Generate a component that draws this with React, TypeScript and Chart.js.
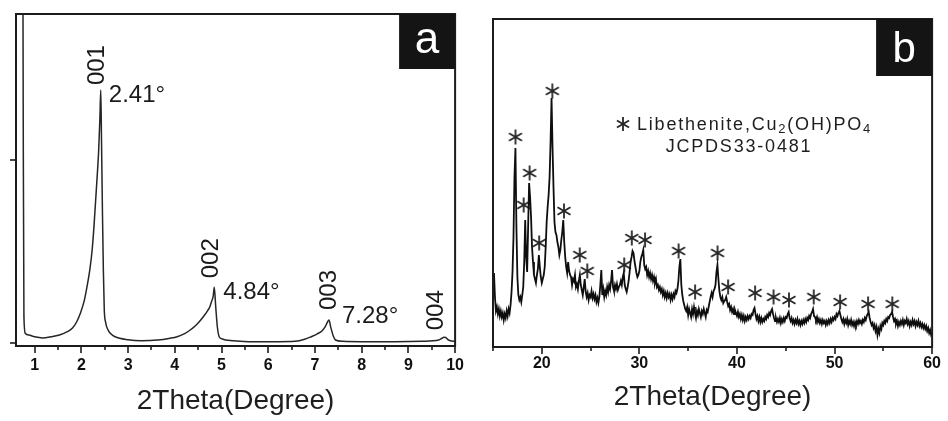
import React, { useEffect, useRef } from 'react';
import { Chart, registerables } from 'chart.js';

Chart.register(...registerables);

const FONT = "'Liberation Sans', Arial, Helvetica, sans-serif";
const INK = '#1c1c1c';

// ---------------- Panel a : low-angle XRD ----------------
const thetaA = [
  0.745, 0.755, 0.77, 0.8, 0.9, 1.0, 1.17, 1.35, 1.53, 1.7, 1.81, 1.9, 1.98, 2.06, 2.12,
  2.18, 2.23, 2.27, 2.31, 2.34, 2.37, 2.395, 2.415, 2.43, 2.45, 2.47, 2.49, 2.52, 2.56,
  2.63, 2.72, 3.0, 3.28, 3.63, 3.9, 4.05, 4.2, 4.33, 4.48, 4.61, 4.7, 4.75, 4.79, 4.82,
  4.845, 4.875, 4.91, 4.95, 5.02, 5.09, 5.4, 5.72, 6.2, 6.57, 6.78, 6.92, 7.05, 7.15,
  7.22, 7.27, 7.3, 7.34, 7.39, 7.44, 7.6, 8.0, 8.7, 9.3, 9.65, 9.72, 9.76, 9.8, 9.84,
  9.9, 10.0,
];
const intensityA = [
  12000, 6000, 700, 260, 210, 170, 140, 170, 220, 310, 410, 580, 820, 1150, 1540,
  2000, 2540, 3200, 4000, 4600, 5270, 6100, 6910, 5600, 3630, 2000, 900, 560, 380,
  250, 172, 90, 64, 80, 130, 172, 250, 355, 520, 718, 880, 992, 1150, 1265,
  1522, 1000, 445, 172, 110, 82, 50, 36, 36, 45, 100, 172, 250, 330,
  445, 580, 628, 420, 200, 82, 45, 36, 36, 45, 80, 130, 156, 150, 100,
  60, 40,
];
const xTicksA = [1, 2, 3, 4, 5, 6, 7, 8, 9, 10];
const xMinorA = [1.5, 2.5, 3.5, 4.5, 5.5, 6.5, 7.5, 8.5, 9.5];
const yTicksA = [0, 5000];
const peakNamesA = ['001', '002', '003', '004'];
const peakThetaA = [2.415, 4.845, 7.3, 9.76];
const peakIntensityA = [6910, 1522, 628, 156];
const peakAngleLabelsA = ['2.41°', '4.84°', '7.28°', ''];

// ---------------- Panel b : wide-angle XRD ----------------
const scanStartB = 15;
const scanStepB = 0.1;
const intensityB = [
  60, 74, 50, 36, 40, 33, 38, 31, 36, 30,
  34, 27, 33, 29, 36, 31, 38, 34, 42, 55,
  75, 110, 170, 199, 120, 70, 52, 47, 50, 45,
  52, 60, 85, 127, 90, 75, 120, 164, 150, 130,
  100, 85, 72, 68, 64, 72, 78, 92, 80, 70,
  64, 68, 72, 80, 100, 125, 140, 152, 170, 205,
  249, 200, 160, 125, 115, 112, 105, 100, 92, 97,
  107, 115, 127, 105, 90, 80, 74, 85, 76, 72,
  70, 62, 68, 66, 72, 60, 63, 58, 66, 72,
  62, 57, 52, 60, 68, 55, 50, 54, 47, 52,
  50, 56, 49, 53, 48, 52, 45, 49, 44, 50,
  62, 77, 52, 58, 50, 56, 52, 60, 55, 62,
  58, 66, 77, 60, 56, 62, 58, 63, 57, 60,
  62, 66, 62, 70, 74, 62, 58, 55, 60, 66,
  75, 85, 90, 96, 94, 86, 80, 74, 70, 72,
  76, 85, 90, 93, 97, 82, 78, 80, 72, 76,
  70, 74, 68, 72, 66, 70, 64, 68, 60, 62,
  57, 60, 55, 58, 52, 56, 50, 54, 49, 54,
  50, 53, 47, 52, 48, 53, 50, 56, 54, 58,
  66, 80, 88, 62, 52, 46, 42, 38, 36, 40,
  32, 38, 34, 30, 38, 33, 40, 34, 29, 36,
  32, 38, 34, 30, 36, 33, 38, 34, 30, 37,
  35, 40, 45, 50, 54, 50, 56, 58, 62, 75,
  82, 68, 56, 50, 47, 50, 44, 46, 47, 50,
  45, 41, 43, 37, 40, 35, 38, 33, 37, 34,
  31, 35, 30, 33, 28, 32, 27, 31, 26, 30,
  27, 31, 28, 31, 29, 33, 32, 37, 39, 33,
  28, 31, 26, 30, 25, 29, 25, 28, 26, 30,
  28, 32, 30, 34, 32, 36, 38, 33, 29, 26,
  29, 25, 28, 25, 29, 24, 28, 25, 29, 26,
  30, 29, 33, 35, 29, 26, 29, 24, 27, 23,
  27, 24, 28, 23, 26, 22, 26, 23, 27, 24,
  28, 25, 29, 27, 31, 29, 33, 35, 38, 31,
  30, 27, 30, 25, 28, 24, 27, 23, 27, 24,
  26, 22, 26, 23, 27, 24, 28, 25, 29, 27,
  30, 28, 33, 31, 34, 36, 32, 28, 25, 28,
  23, 27, 24, 28, 22, 26, 23, 27, 22, 25,
  21, 25, 22, 26, 23, 27, 24, 26, 23, 27,
  25, 29, 27, 31, 33, 35, 29, 25, 22, 24,
  19, 22, 16, 20, 12, 18, 14, 21, 18, 24,
  22, 26, 24, 28, 26, 30, 29, 32, 33, 35,
  30, 26, 28, 23, 26, 21, 25, 22, 26, 23,
  27, 22, 26, 24, 28, 23, 26, 21, 25, 22,
  27, 23, 26, 21, 25, 22, 26, 21, 24, 20,
  23, 19, 22, 18, 21, 16, 19, 14, 17, 12,
  14,
];
const starThetaB = [
  17.3, 18.14, 18.75, 19.73, 21.08, 22.27, 23.89, 24.66, 28.45, 29.22, 30.58,
  34.02, 35.71, 38.01, 39.09, 41.86, 43.75, 45.33, 47.87, 50.57, 53.44, 55.92,
];
const starIntensityB = [
  210, 142, 174, 104, 256, 136, 92, 76, 82, 109, 107,
  96, 55, 94, 60, 54, 50, 47, 50, 45, 43, 43,
];
const xTicksB = [20, 30, 40, 50, 60];
const xMinorB = [15, 25, 35, 45, 55];
const legendPartsB = ['Libethenite,Cu', '2', '(OH)PO', '4'];
const legendLine2B = 'JCPDS33-0481';
const axisTitle = '2Theta(Degree)';

// ---------------- helpers ----------------
function drawAsteriskPath(ctx: CanvasRenderingContext2D, cx: number, cy: number, r: number) {
  for (const deg of [90, 30, 150]) {
    const a = (deg * Math.PI) / 180;
    ctx.beginPath();
    ctx.moveTo(cx - r * Math.cos(a), cy - r * Math.sin(a));
    ctx.lineTo(cx + r * Math.cos(a), cy + r * Math.sin(a));
    ctx.stroke();
  }
}

function makeAsterisk(size: number, r: number, lw: number, color: string) {
  const c = document.createElement('canvas');
  c.width = size;
  c.height = size;
  const ctx = c.getContext('2d')!;
  ctx.strokeStyle = color;
  ctx.lineWidth = lw;
  drawAsteriskPath(ctx, size / 2, size / 2, r);
  return c;
}

type DecorOpts = {
  major: number[];
  minor: number[];
  yTicks: number[];
  tag: string;
  tagH: number;
  tagSize: number;
  tagBase: number;
  extra?: (chart: any, ctx: CanvasRenderingContext2D) => void;
};

function decorPlugin(o: DecorOpts) {
  return {
    id: 'decor',
    afterDraw(chart: any) {
      const { ctx, chartArea: ca, scales } = chart;
      const x = scales.x;
      const y = scales.y;
      ctx.save();
      ctx.strokeStyle = INK;
      ctx.lineWidth = 2;
      ctx.strokeRect(ca.left, ca.top, ca.right - ca.left, ca.bottom - ca.top);
      ctx.lineWidth = 1.6;
      const tick = (x1: number, y1: number, x2: number, y2: number) => {
        ctx.beginPath();
        ctx.moveTo(x1, y1);
        ctx.lineTo(x2, y2);
        ctx.stroke();
      };
      for (const v of o.major) {
        const px = Math.round(x.getPixelForValue(v));
        tick(px, ca.bottom, px, ca.bottom + 7);
      }
      for (const v of o.minor) {
        const px = Math.round(x.getPixelForValue(v));
        tick(px, ca.bottom, px, ca.bottom + 4);
      }
      for (const v of o.yTicks) {
        const py = Math.round(y.getPixelForValue(v));
        tick(ca.left - 6, py, ca.left, py);
      }
      // panel tag
      ctx.fillStyle = '#141414';
      ctx.fillRect(ca.right - 56, ca.top, 56, o.tagH);
      ctx.fillStyle = '#ffffff';
      ctx.font = `${o.tagSize}px ${FONT}`;
      ctx.textAlign = 'center';
      ctx.textBaseline = 'alphabetic';
      ctx.fillText(o.tag, ca.right - 28, ca.top + o.tagBase);
      if (o.extra) o.extra(chart, ctx);
      ctx.restore();
    },
  };
}

function xScale(min: number, max: number, ticks: number[], axisH: number, tickPad: number, titlePad: number) {
  return {
    type: 'linear',
    min,
    max,
    afterBuildTicks: (s: any) => {
      s.ticks = ticks.map((v) => ({ value: v }));
    },
    afterFit: (s: any) => {
      s.height = axisH;
    },
    grid: { display: false, drawTicks: false },
    border: { display: false },
    ticks: {
      padding: tickPad,
      color: '#111111',
      autoSkip: false,
      maxRotation: 0,
      font: { family: FONT, size: 16, weight: 'bold' },
      callback: (v: any) => String(v),
    },
    title: {
      display: true,
      text: axisTitle,
      color: '#1e1e1e',
      font: { family: FONT, size: 28 },
      padding: { top: 0, bottom: titlePad },
    },
  };
}

function useChart(ref: React.RefObject<HTMLCanvasElement>, build: () => any) {
  useEffect(() => {
    if (!ref.current) return;
    const chart = new Chart(ref.current, build());
    return () => chart.destroy();
  }, []);
}

function PanelA() {
  const ref = useRef<HTMLCanvasElement>(null);
  useChart(ref, () => {
    const nameDx = [-3, -3, 0, -8];
    const nameGap = [5, 9, 10, 7];
    const angDx = [8, 9, 13, 0];
    const angDy = [12, 12, 3, 0];
    return {
      type: 'line',
      data: {
        datasets: [
          {
            data: thetaA.map((t, i) => ({ x: t, y: intensityA[i] })),
            borderColor: '#262626',
            borderWidth: 1.5,
            pointRadius: 0,
            cubicInterpolationMode: 'monotone',
            fill: false,
          },
        ],
      },
      options: {
        responsive: false,
        animation: false,
        events: [],
        layout: { padding: { left: 16, top: 14, right: 12, bottom: 0 } },
        plugins: { legend: { display: false }, tooltip: { enabled: false } },
        scales: {
          x: xScale(0.6, 10, xTicksA, 75, 10, 3),
          y: { display: false, min: -82, max: 8990 },
        },
      },
      plugins: [
        decorPlugin({
          major: xTicksA,
          minor: xMinorA,
          yTicks: yTicksA,
          tag: 'a',
          tagH: 55,
          tagSize: 44,
          tagBase: 39,
          extra: (chart, ctx) => {
            const { x, y } = chart.scales;
            ctx.fillStyle = '#1a1a1a';
            ctx.font = `24px ${FONT}`;
            peakNamesA.forEach((name, i) => {
              const px = x.getPixelForValue(peakThetaA[i]);
              const py = y.getPixelForValue(peakIntensityA[i]);
              ctx.save();
              ctx.translate(px + nameDx[i], py - nameGap[i]);
              ctx.rotate(-Math.PI / 2);
              ctx.textAlign = 'left';
              ctx.textBaseline = 'middle';
              ctx.fillText(name, 0, 0);
              ctx.restore();
              const lab = peakAngleLabelsA[i];
              if (lab) {
                ctx.textAlign = 'left';
                ctx.textBaseline = 'alphabetic';
                ctx.fillText(lab, px + angDx[i], py + angDy[i]);
              }
            });
          },
        }),
      ],
    };
  });
  return (
    <canvas
      ref={ref}
      width={474}
      height={421}
      style={{ position: 'absolute', left: 0, top: 0, width: 474, height: 421 }}
    />
  );
}

function PanelB() {
  const ref = useRef<HTMLCanvasElement>(null);
  useChart(ref, () => {
    const star = makeAsterisk(18, 7.5, 1.8, '#262626');
    return {
      type: 'line',
      data: {
        datasets: [
          {
            data: intensityB.map((v, i) => ({
              x: Math.round((scanStartB + i * scanStepB) * 10) / 10,
              y: v,
            })),
            borderColor: '#0e0e0e',
            borderWidth: 1.8,
            pointRadius: 0,
            tension: 0,
            fill: false,
          },
          {
            type: 'scatter',
            data: starThetaB.map((t, i) => ({ x: t, y: starIntensityB[i] })),
            pointStyle: star,
            pointRadius: 8,
            showLine: false,
          },
        ],
      },
      options: {
        responsive: false,
        animation: false,
        events: [],
        layout: { padding: { left: 19, top: 19, right: 11, bottom: 0 } },
        plugins: { legend: { display: false }, tooltip: { enabled: false } },
        scales: {
          x: xScale(15, 60, xTicksB, 74, 7, 7),
          y: { display: false, min: 0, max: 328 },
        },
      },
      plugins: [
        decorPlugin({
          major: xTicksB,
          minor: xMinorB,
          yTicks: [],
          tag: 'b',
          tagH: 57,
          tagSize: 42,
          tagBase: 43,
          extra: (chart, ctx) => {
            const ca = chart.chartArea;
            ctx.strokeStyle = '#262626';
            ctx.lineWidth = 1.8;
            drawAsteriskPath(ctx, ca.left + 130, ca.top + 105, 7);
            ctx.fillStyle = '#1e1e1e';
            ctx.textAlign = 'left';
            ctx.textBaseline = 'alphabetic';
            (ctx as any).letterSpacing = '1.8px';
            let cx = ca.left + 144;
            const base = ca.top + 111;
            legendPartsB.forEach((part, i) => {
              const sub = i % 2 === 1;
              ctx.font = `${sub ? 13 : 18}px ${FONT}`;
              ctx.fillText(part, cx, base + (sub ? 3 : 0));
              cx += ctx.measureText(part).width;
            });
            ctx.font = `18px ${FONT}`;
            ctx.textAlign = 'center';
            ctx.fillText(legendLine2B, ca.left + 246, ca.top + 133);
            (ctx as any).letterSpacing = '0px';
          },
        }),
      ],
    };
  });
  return (
    <canvas
      ref={ref}
      width={474}
      height={421}
      style={{ position: 'absolute', left: 474, top: 0, width: 474, height: 421 }}
    />
  );
}

export default function App() {
  return (
    <div
      style={{
        position: 'fixed',
        left: 0,
        top: 0,
        width: 948,
        height: 421,
        background: '#ffffff',
        overflow: 'hidden',
      }}
    >
      <PanelA />
      <PanelB />
    </div>
  );
}
